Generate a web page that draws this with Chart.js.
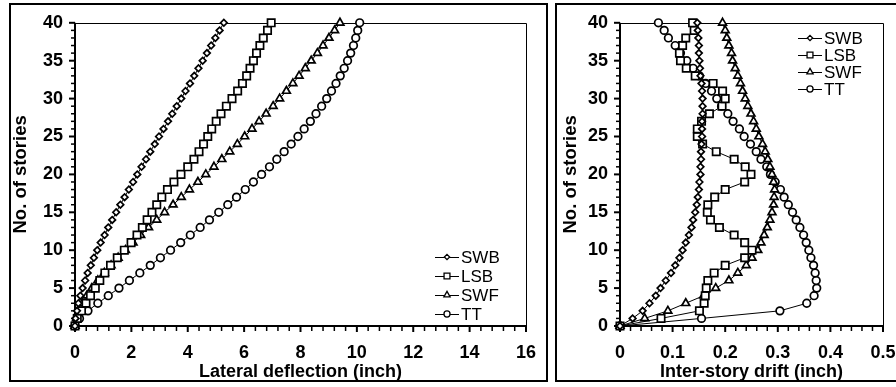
<!DOCTYPE html>
<html>
<head>
<meta charset="utf-8">
<script src="https://cdn.jsdelivr.net/npm/chart.js@4.4.1/dist/chart.umd.min.js"></script>
<style>
html,body{margin:0;padding:0;background:#fff;width:896px;height:387px;overflow:hidden;position:relative;}
.panel{position:absolute;box-sizing:border-box;border:2px solid #000;pointer-events:none;}
.cw{position:absolute;top:0;height:387px;}
</style>
</head>
<body>
<div class="panel" style="left:9px;top:3px;width:539px;height:379px;"></div>
<div class="panel" style="left:555px;top:3px;width:400px;height:379px;"></div>
<div class="cw" style="left:0;width:552px;"><canvas id="c1" width="552" height="387"></canvas></div>
<div class="cw" style="left:552px;width:360px;"><canvas id="c2" width="360" height="387"></canvas></div>
<script>
// ---- data ----
const stories = [0,1,2,3,4,5,6,7,8,9,10,11,12,13,14,15,16,17,18,19,20,21,22,23,24,25,26,27,28,29,30,31,32,33,34,35,36,37,38,39,40];
const seriesNames = ['SWB','LSB','SWF','TT'];

// Lateral deflection (inch)
const swbDefl = [0,0.02,0.07,0.12,0.19,0.27,0.36,0.45,0.56,0.67,0.79,0.91,1.05,1.18,1.32,1.46,1.61,1.76,1.91,2.06,2.21,2.36,2.52,2.67,2.83,2.98,3.14,3.30,3.45,3.61,3.77,3.92,4.08,4.23,4.38,4.53,4.68,4.83,4.98,5.13,5.28];
const lsbDefl = [0,0.08,0.23,0.39,0.55,0.72,0.88,1.06,1.26,1.50,1.75,1.99,2.20,2.39,2.56,2.73,2.90,3.08,3.28,3.51,3.76,4.00,4.22,4.40,4.56,4.71,4.85,5.01,5.18,5.37,5.57,5.77,5.94,6.09,6.21,6.33,6.44,6.56,6.68,6.83,6.96];
const swfDefl = [0,0.05,0.14,0.26,0.42,0.60,0.81,1.04,1.28,1.53,1.79,2.06,2.33,2.61,2.90,3.18,3.48,3.77,4.06,4.36,4.64,4.93,5.21,5.49,5.76,6.02,6.28,6.53,6.78,7.03,7.26,7.50,7.73,7.95,8.17,8.38,8.60,8.80,9.01,9.21,9.40];
const ttDefl  = [0,0.16,0.46,0.81,1.18,1.56,1.93,2.30,2.67,3.03,3.39,3.75,4.09,4.44,4.77,5.10,5.42,5.73,6.04,6.33,6.62,6.90,7.16,7.42,7.67,7.91,8.13,8.35,8.55,8.75,8.93,9.10,9.26,9.41,9.55,9.67,9.78,9.88,9.96,10.03,10.10];

// Inter-story drift (inch)
const swbDrift = [0,0.024,0.043,0.056,0.068,0.077,0.087,0.097,0.105,0.113,0.119,0.125,0.131,0.136,0.139,0.143,0.146,0.148,0.150,0.151,0.153,0.153,0.154,0.154,0.155,0.156,0.156,0.156,0.157,0.157,0.157,0.156,0.155,0.153,0.152,0.151,0.150,0.150,0.149,0.148,0.147];
const lsbDrift = [0,0.078,0.151,0.160,0.162,0.164,0.167,0.179,0.200,0.237,0.251,0.237,0.217,0.189,0.172,0.166,0.167,0.180,0.200,0.237,0.249,0.238,0.217,0.183,0.157,0.147,0.147,0.155,0.170,0.194,0.200,0.195,0.177,0.143,0.126,0.115,0.113,0.119,0.125,0.141,0.138];
const swfDrift = [0,0.047,0.091,0.125,0.159,0.182,0.207,0.224,0.240,0.251,0.262,0.268,0.274,0.280,0.285,0.289,0.292,0.293,0.294,0.292,0.289,0.285,0.281,0.276,0.271,0.264,0.259,0.254,0.249,0.243,0.238,0.233,0.229,0.224,0.219,0.214,0.212,0.207,0.203,0.200,0.195];
const ttDrift  = [0,0.155,0.304,0.355,0.369,0.374,0.373,0.371,0.368,0.363,0.359,0.354,0.349,0.342,0.335,0.328,0.320,0.312,0.305,0.295,0.286,0.279,0.268,0.259,0.248,0.236,0.227,0.215,0.205,0.193,0.184,0.174,0.163,0.151,0.139,0.127,0.115,0.105,0.092,0.084,0.073];

const xTicks1 = {min:0, max:16, step:2, minor:0.4};
const xTicks2 = {min:0, max:0.5, step:0.1, minor:0.02};
const yTicks  = {min:0, max:40, step:5, minor:1};

// ---- styles ----
const FONT = "'Liberation Sans', Arial, Helvetica, sans-serif";
Chart.defaults.font.family = FONT;
Chart.defaults.color = '#000';

const markerStyles = [
  {pointStyle:'rectRot', radius:3.3},
  {pointStyle:'rect', radius:5.2},
  {pointStyle:'triangle', radius:4.5},
  {pointStyle:'circle', radius:3.8}
];

function pts(xs){ return xs.map((v,i)=>({x:v, y:stories[i]})); }

function makeDatasets(arrs){
  return arrs.map((a,i)=>({
    label: seriesNames[i],
    data: pts(a),
    showLine: true,
    borderColor:'#000',
    borderWidth:1,
    pointStyle: markerStyles[i].pointStyle,
    pointRadius: markerStyles[i].radius,
    pointBorderWidth:1.7,
    pointBorderColor:'#000',
    pointBackgroundColor:'#fff',
    clip:false,
    tension:0
  }));
}

function drawMarker(ctx, style, r, x, y){
  ctx.beginPath();
  if(style==='rectRot'){
    ctx.moveTo(x, y-r); ctx.lineTo(x+r, y); ctx.lineTo(x, y+r); ctx.lineTo(x-r, y); ctx.closePath();
  } else if(style==='rect'){
    const s = r*Math.SQRT1_2; ctx.rect(x-s, y-s, 2*s, 2*s);
  } else if(style==='triangle'){
    ctx.moveTo(x, y-r);
    ctx.lineTo(x + r*Math.sin(2*Math.PI/3), y - r*Math.cos(2*Math.PI/3));
    ctx.lineTo(x + r*Math.sin(4*Math.PI/3), y - r*Math.cos(4*Math.PI/3));
    ctx.closePath();
  } else {
    ctx.arc(x, y, r, 0, Math.PI*2);
  }
  ctx.fill(); ctx.stroke();
}

function framePlugin(xt, yt){
  return {
    id:'frame',
    beforeDatasetsDraw(chart){
      const {ctx, chartArea:a, scales} = chart;
      const xs = scales.x, ys = scales.y;
      ctx.save();
      ctx.strokeStyle = '#000';
      ctx.lineWidth = 1;
      ctx.beginPath();
      ctx.moveTo(a.left, Math.round(a.top)+0.5);
      ctx.lineTo(Math.round(a.right)+0.5, Math.round(a.top)+0.5);
      ctx.lineTo(Math.round(a.right)+0.5, a.bottom);
      ctx.stroke();
      // ticks
      const nx = Math.round((xt.max-xt.min)/xt.minor);
      for(let i=0;i<=nx;i++){
        const px = xs.getPixelForValue(xt.min + i*xt.minor);
        const major = i % Math.round(xt.step/xt.minor) === 0;
        ctx.lineWidth = major ? 2 : 1.5;
        ctx.beginPath();
        ctx.moveTo(px, a.bottom);
        ctx.lineTo(px, a.bottom + (major ? 6 : 5));
        ctx.stroke();
      }
      const ny = Math.round((yt.max-yt.min)/yt.minor);
      for(let i=0;i<=ny;i++){
        const py = ys.getPixelForValue(yt.min + i*yt.minor);
        const major = i % Math.round(yt.step/yt.minor) === 0;
        ctx.lineWidth = major ? 2 : 1.5;
        ctx.beginPath();
        ctx.moveTo(a.left, py);
        ctx.lineTo(a.left - (major ? 6 : 4), py);
        ctx.stroke();
      }
      // axes
      ctx.lineWidth = 2;
      ctx.beginPath();
      ctx.moveTo(a.left, a.top);
      ctx.lineTo(a.left, a.bottom);
      ctx.lineTo(a.right+1, a.bottom);
      ctx.stroke();
      ctx.restore();
    }
  };
}

function legendPlugin(x0, y0, dy){
  return {
    id:'legendBox',
    afterDraw(chart){
      const ctx = chart.ctx;
      ctx.save();
      chart.data.datasets.forEach((ds,i)=>{
        const y = y0 + i*dy;
        ctx.strokeStyle = '#000';
        ctx.lineWidth = 1;
        ctx.beginPath(); ctx.moveTo(x0, y+0.5); ctx.lineTo(x0+24, y+0.5); ctx.stroke();
        ctx.fillStyle = '#fff';
        ctx.lineWidth = 1.3;
        drawMarker(ctx, markerStyles[i].pointStyle, markerStyles[i].radius*0.8, x0+12, y);
        ctx.fillStyle = '#000';
        ctx.font = "17px " + FONT;
        ctx.textBaseline = 'middle';
        ctx.textAlign = 'left';
        ctx.fillText(ds.label, x0+26, y+1);
      });
      ctx.restore();
    }
  };
}

function makeChart(id, arrs, xt, xTitle, pad, yW, yTitlePad, legendPos){
  return new Chart(document.getElementById(id), {
    type:'scatter',
    data:{datasets: makeDatasets(arrs)},
    options:{
      responsive:false,
      animation:false,
      events:[],
      layout:{padding:pad},
      plugins:{legend:{display:false}, tooltip:{enabled:false}},
      scales:{
        x:{
          type:'linear', min:xt.min, max:xt.max,
          ticks:{stepSize:xt.step, padding:16, font:{size:18, weight:'bold'}, maxRotation:0, autoSkip:false},
          grid:{display:false, drawTicks:false},
          border:{display:false},
          title:{display:true, text:xTitle, font:{size:18, weight:'bold'}, padding:{top:0, bottom:4}},
          afterFit(s){ s.height = 61; }
        },
        y:{
          type:'linear', min:yTicks.min, max:yTicks.max,
          ticks:{stepSize:yTicks.step, padding:12, font:{size:18, weight:'bold'}, autoSkip:false},
          grid:{display:false, drawTicks:false},
          border:{display:false},
          title:{display:true, text:'No. of stories', font:{size:18.5, weight:'bold'}, padding:{top:yTitlePad, bottom:0}},
          afterFit(s){ s.width = yW; }
        }
      }
    },
    plugins:[framePlugin(xt, yTicks), legendPlugin(legendPos[0], legendPos[1], legendPos[2])]
  });
}

makeChart('c1', [swbDefl, lsbDefl, swfDefl, ttDefl], xTicks1, 'Lateral deflection (inch)',
  {left:0, top:21, right:21, bottom:0}, 75, 10, [435, 257, 19]);
makeChart('c2', [swbDrift, lsbDrift, swfDrift, ttDrift], xTicks2, 'Inter-story drift (inch)',
  {left:0, top:20, right:29, bottom:0}, 68, 8, [246, 38, 17]);
</script>
</body>
</html>
